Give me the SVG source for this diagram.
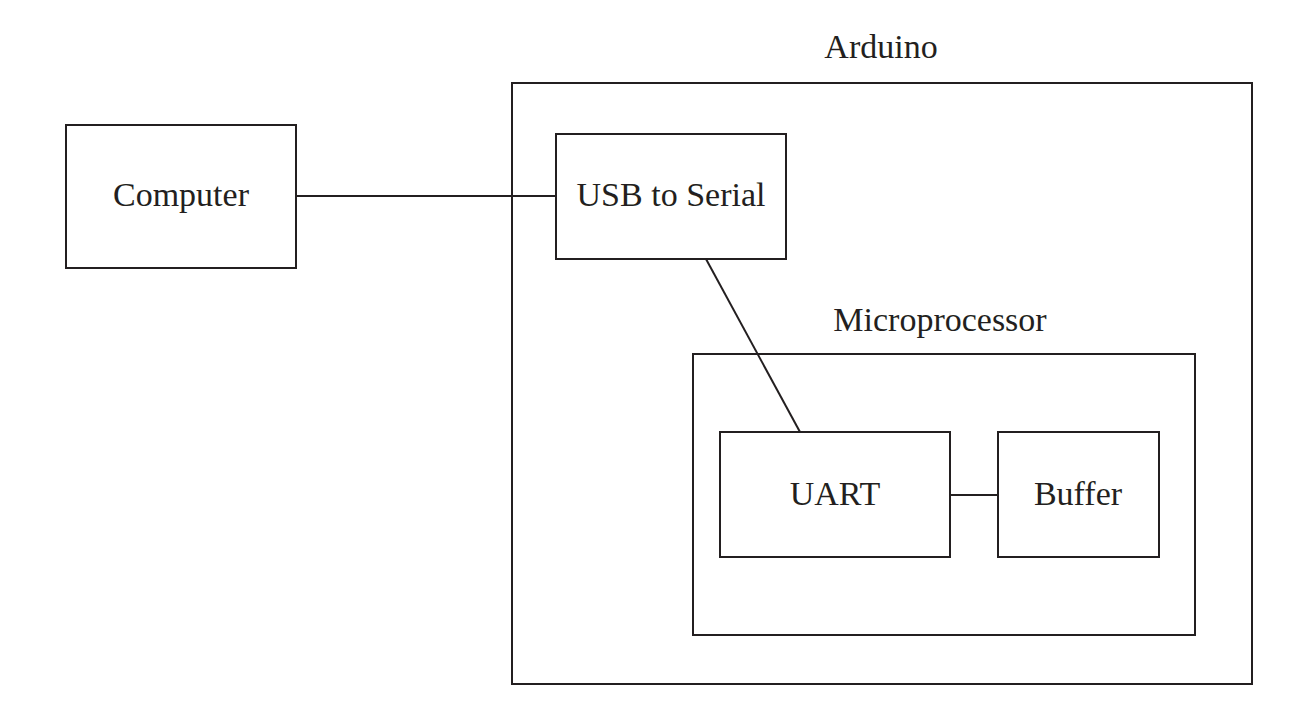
<svg xmlns="http://www.w3.org/2000/svg" width="1310" height="709" viewBox="0 0 1310 709">
<style>
.box{fill:#fff;stroke:#231f20;stroke-width:2}
.wire{stroke:#231f20;stroke-width:2;fill:none}
text{font-family:"Liberation Serif","DejaVu Serif",serif;font-size:34px;fill:#231f20;text-anchor:middle}
</style>
<rect width="1310" height="709" fill="#fff"/>
<g id="arduino">
<rect class="box" x="512" y="83" width="740" height="601"/>
<text x="881" y="58">Arduino</text>
</g>
<g id="microprocessor">
<rect class="box" x="693" y="354" width="502" height="281"/>
<text x="940" y="331">Microprocessor</text>
</g>
<g id="computer">
<rect class="box" x="66" y="125" width="230" height="143"/>
<text x="181" y="206">Computer</text>
</g>
<g id="usb-serial">
<rect class="box" x="556" y="134" width="230" height="125"/>
<text x="671" y="206">USB to Serial</text>
</g>
<g id="uart">
<rect class="box" x="720" y="432" width="230" height="125"/>
<text x="835" y="505">UART</text>
</g>
<g id="buffer">
<rect class="box" x="998" y="432" width="161" height="125"/>
<text x="1078" y="505">Buffer</text>
</g>
<g id="connectors">
<line class="wire" x1="296" y1="196" x2="556" y2="196"/>
<line class="wire" x1="706" y1="259" x2="800" y2="432"/>
<line class="wire" x1="950" y1="495" x2="998" y2="495"/>
</g>
</svg>
